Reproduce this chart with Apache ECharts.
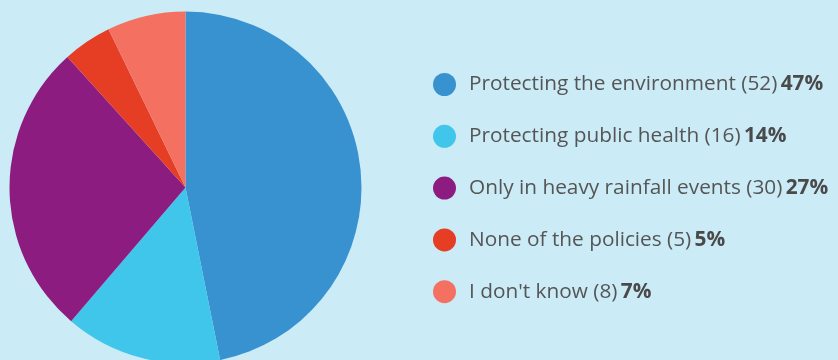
<!DOCTYPE html>
<html>
<head>
<meta charset="utf-8">
<style>
  html, body { margin: 0; padding: 0; background: #cbebf7; }
  #chart { width: 838px; height: 360px; }
</style>
<script src="https://cdn.jsdelivr.net/npm/echarts@6/dist/echarts.min.js"></script>
</head>
<body>
<div id="chart"></div>
<script>
// Survey responses: which policies apply
const categories = [
  'Protecting the environment',
  'Protecting public health',
  'Only in heavy rainfall events',
  'None of the policies',
  "I don't know"
];
const counts = [52, 16, 30, 5, 8];
const colors = ['#3792cf', '#40c6ea', '#8c1c80', '#e53e25', '#f47162'];

const total = counts.reduce((a, b) => a + b, 0);
const pieData = categories.map((name, i) => ({
  name: name,
  value: counts[i],
  itemStyle: { color: colors[i] }
}));

const chart = echarts.init(document.getElementById('chart'), null, { renderer: 'canvas' });
chart.setOption({
  backgroundColor: '#cbebf7',
  animation: false,
  legend: {
    orient: 'vertical',
    left: 433,
    top: 73,
    padding: 0,
    icon: 'circle',
    itemWidth: 23,
    itemHeight: 23,
    itemGap: 28.8,
    selectedMode: false,
    formatter: function (name) {
      const i = categories.indexOf(name);
      const pct = Math.round(counts[i] / total * 100);
      return '{n|' + name + ' (' + counts[i] + ')} {b|' + pct + '%}';
    },
    textStyle: {
      padding: [0, 0, 0, 8],
      rich: {
        n: { fontFamily: 'Open Sans', fontSize: 20.8, color: '#555555' },
        b: { fontFamily: 'Open Sans', fontSize: 20.8, fontWeight: 'bold', color: '#4a4a4a' }
      }
    },
    data: categories
  },
  series: [{
    type: 'pie',
    center: [185.5, 187.5],
    radius: 176,
    startAngle: 90,
    clockwise: true,
    label: { show: false },
    labelLine: { show: false },
    emphasis: { disabled: true },
    itemStyle: { borderWidth: 0 },
    data: pieData
  }]
});
</script>
</body>
</html>
